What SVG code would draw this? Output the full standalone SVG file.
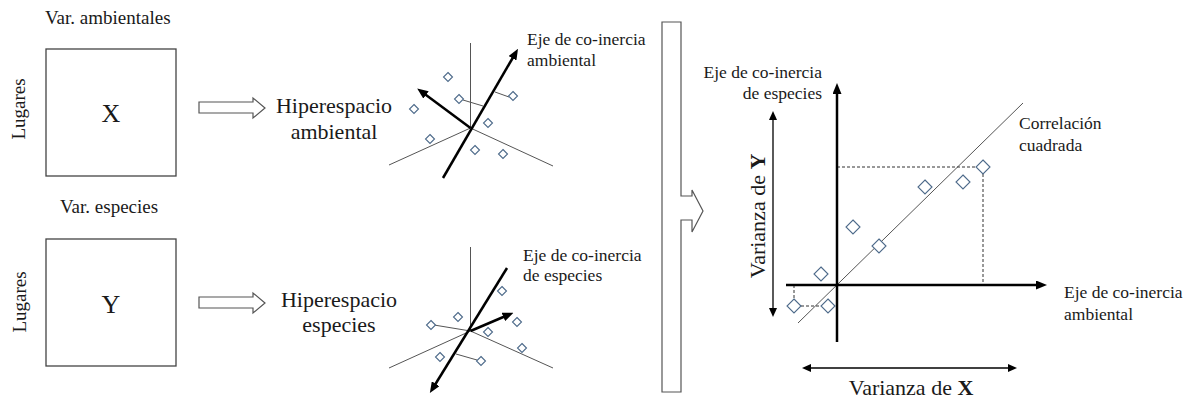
<svg xmlns="http://www.w3.org/2000/svg" xmlns:xlink="http://www.w3.org/1999/xlink" width="1188" height="402" viewBox="0 0 1188 402">
<style>
text{font-family:"Liberation Serif","Times New Roman",serif;fill:#1a1a1a}
.lbl{font-size:19px}
.big{font-size:22px}
.sm{font-size:17.5px}
.box{fill:#fff;stroke:#444;stroke-width:1.3}
.hollow{fill:#fff;stroke:#555;stroke-width:1.2}
.thin{stroke:#555;stroke-width:1;fill:none}
.thick{stroke:#000;stroke-width:2.5;fill:none}
.med{stroke:#000;stroke-width:1.3;fill:none}
.dash{stroke:#333;stroke-width:1;stroke-dasharray:3,2;fill:none}
.dia{fill:#fff;stroke:#4d6a8a;stroke-width:1.1}
</style>
<defs>
<marker id="ah" markerUnits="userSpaceOnUse" markerWidth="11" markerHeight="9" refX="5" refY="4.5" orient="auto-start-reverse" viewBox="0 0 11 9">
<path d="M0,0 L11,4.5 L0,9 z" fill="#000"/>
</marker>
<marker id="ahs" markerUnits="userSpaceOnUse" markerWidth="9" markerHeight="8" refX="4" refY="4" orient="auto-start-reverse" viewBox="0 0 9 8">
<path d="M0,0 L9,4 L0,8 z" fill="#000"/>
</marker>
<path id="ds" d="M0,-4.5 L4.5,0 L0,4.5 L-4.5,0 z" class="dia"/>
<path id="dl" d="M0,-7 L7,0 L0,7 L-7,0 z" class="dia"/>
</defs>

<g id="matrix-x">
<text class="lbl" x="45" y="24">Var. ambientales</text>
<rect class="box" x="46" y="49" width="130" height="127"/>
<text x="111" y="122" text-anchor="middle" style="font-size:26px">X</text>
<text class="lbl" transform="translate(25,109) rotate(-90)" text-anchor="middle">Lugares</text>
</g>

<g id="matrix-y">
<text class="lbl" x="60" y="213">Var. especies</text>
<rect class="box" x="46" y="239" width="130" height="127"/>
<text x="111" y="313" text-anchor="middle" style="font-size:26px">Y</text>
<text class="lbl" transform="translate(26,302) rotate(-90)" text-anchor="middle">Lugares</text>
</g>

<g id="hyper-ambiental-label">
<text class="big" x="334" y="113" text-anchor="middle">Hiperespacio</text>
<text class="big" x="334" y="139" text-anchor="middle">ambiental</text>
</g>

<g id="hyper-especies-label">
<text class="big" x="339" y="307" text-anchor="middle">Hiperespacio</text>
<text class="big" x="339" y="332" text-anchor="middle">especies</text>
</g>

<g id="hyper-ambiental">
<line class="thin" x1="470.5" y1="128" x2="470.5" y2="43"/>
<line class="thin" x1="470.5" y1="128" x2="389" y2="165"/>
<line class="thin" x1="470.5" y1="128" x2="553" y2="166"/>
<line class="thin" x1="463" y1="100" x2="483" y2="106"/>
<line class="thin" x1="495" y1="92" x2="509" y2="97"/>
<use xlink:href="#ds" x="448" y="77"/>
<use xlink:href="#ds" x="459" y="99"/>
<use xlink:href="#ds" x="513" y="96"/>
<use xlink:href="#ds" x="414" y="109"/>
<use xlink:href="#ds" x="488" y="123"/>
<use xlink:href="#ds" x="430" y="139"/>
<use xlink:href="#ds" x="475" y="150"/>
<use xlink:href="#ds" x="503" y="154"/>
<text class="sm" x="527" y="45">Eje de co-inercia</text>
<text class="sm" x="527" y="66">ambiental</text>
</g>

<g id="hyper-especies">
<line class="thin" x1="470.5" y1="331" x2="470.5" y2="247"/>
<line class="thin" x1="470.5" y1="331" x2="389" y2="368"/>
<line class="thin" x1="470.5" y1="331" x2="553" y2="368"/>
<line class="thin" x1="434" y1="325" x2="470.5" y2="331"/>
<line class="thin" x1="456" y1="354" x2="477" y2="360"/>
<use xlink:href="#ds" x="502" y="291"/>
<use xlink:href="#ds" x="458" y="317"/>
<use xlink:href="#ds" x="517" y="322"/>
<use xlink:href="#ds" x="431" y="325"/>
<use xlink:href="#ds" x="488" y="332"/>
<use xlink:href="#ds" x="522" y="348"/>
<use xlink:href="#ds" x="440" y="357"/>
<use xlink:href="#ds" x="481" y="361"/>
<text class="sm" x="523" y="261">Eje de co-inercia</text>
<text class="sm" x="523" y="281">de especies</text>
</g>

<g id="big-arrow">
<path class="hollow" d="M662,22 H681 V196 H692 V190 L703,211 L692,232 V220 H681 V392 H662 Z"/>
</g>

<g id="plot">
<line class="thin" x1="798" y1="323" x2="1023" y2="103"/>
<path class="dash" d="M837,167 H976 M983,174 V285 M794,285 V299 M801,306 H821"/>
<use xlink:href="#dl" x="983" y="167"/>
<use xlink:href="#dl" x="963" y="182"/>
<use xlink:href="#dl" x="925" y="187"/>
<use xlink:href="#dl" x="853" y="227"/>
<use xlink:href="#dl" x="879" y="246"/>
<use xlink:href="#dl" x="821" y="274"/>
<use xlink:href="#dl" x="794" y="306"/>
<use xlink:href="#dl" x="828" y="306"/>
<text class="sm" x="822" y="78" text-anchor="end">Eje de co-inercia</text>
<text class="sm" x="822" y="99" text-anchor="end">de especies</text>
<text class="sm" x="1019" y="129">Correlación</text>
<text class="sm" x="1019" y="151">cuadrada</text>
<text class="sm" x="1064" y="298">Eje de co-inercia</text>
<text class="sm" x="1064" y="320">ambiental</text>
<text class="big" transform="translate(765,216) rotate(-90)" text-anchor="middle">Varianza de <tspan font-weight="bold">Y</tspan></text>
<text class="big" x="911" y="395" text-anchor="middle">Varianza de <tspan font-weight="bold">X</tspan></text>
</g>

<g id="connectors">
<path class="hollow" d="M199,102 H253 V98 L265,108 L253,118 V113 H199 Z"/>
<path class="hollow" d="M199,297 H253 V293 L265,303 L253,313 V308 H199 Z"/>
<line class="thick" x1="443" y1="178" x2="515" y2="54" marker-end="url(#ah)"/>
<line class="thick" x1="470.5" y1="128" x2="422" y2="92" marker-end="url(#ah)"/>
<line class="thick" x1="507" y1="268" x2="433" y2="388" marker-end="url(#ah)"/>
<line class="thick" x1="470.5" y1="331" x2="508" y2="315" marker-end="url(#ah)"/>
<line class="thick" x1="837" y1="342" x2="837" y2="89" marker-end="url(#ah)"/>
<line class="thick" x1="786" y1="285" x2="1041" y2="285" marker-end="url(#ah)"/>
<line class="med" x1="773" y1="312" x2="773" y2="116" marker-start="url(#ahs)" marker-end="url(#ahs)"/>
<line class="med" x1="807" y1="368" x2="1012" y2="368" marker-start="url(#ahs)" marker-end="url(#ahs)"/>
</g>
</svg>
